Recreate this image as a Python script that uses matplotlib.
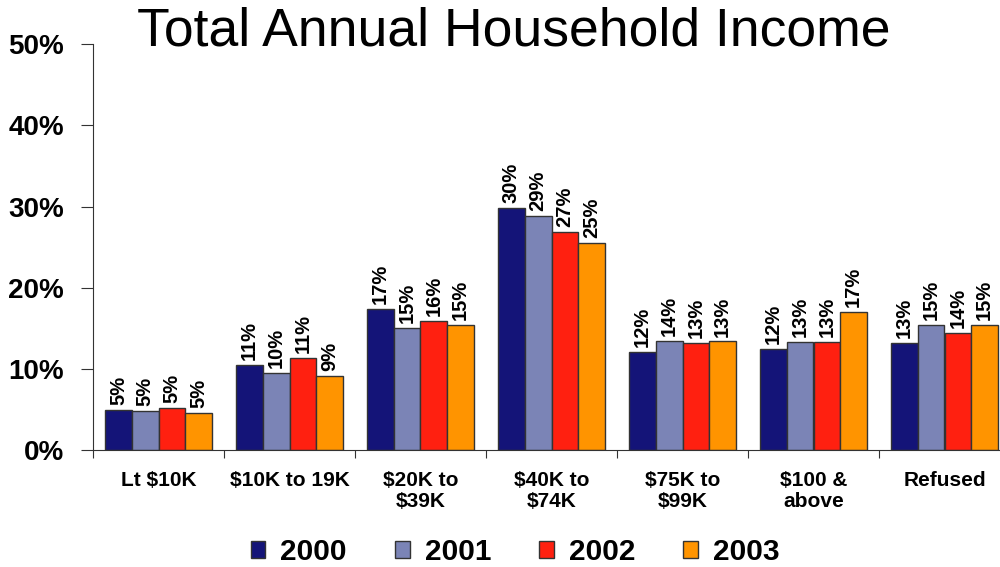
import numpy as np
import matplotlib
matplotlib.use('Agg')
import matplotlib.pyplot as plt
from matplotlib.ticker import FuncFormatter

# dados
categorias = ['Lt $10K', '$10K to 19K', '$20K to\n$39K', '$40K to\n$74K',
              '$75K to\n$99K', '$100 &\nabove', 'Refused']
anos = ['2000', '2001', '2002', '2003']
v2000 = [5.0, 10.5, 17.4, 29.8, 12.1, 12.5, 13.2]
v2001 = [4.8, 9.5, 15.1, 28.8, 13.5, 13.3, 15.4]
v2002 = [5.2, 11.4, 15.9, 26.9, 13.2, 13.3, 14.4]
v2003 = [4.6, 9.1, 15.4, 25.5, 13.4, 17.0, 15.4]
rotulos2000 = ['5%', '11%', '17%', '30%', '12%', '12%', '13%']
rotulos2001 = ['5%', '10%', '15%', '29%', '14%', '13%', '15%']
rotulos2002 = ['5%', '11%', '16%', '27%', '13%', '13%', '14%']
rotulos2003 = ['5%', '9%', '15%', '25%', '13%', '17%', '15%']

series = [v2000, v2001, v2002, v2003]
rotulos = [rotulos2000, rotulos2001, rotulos2002, rotulos2003]
cores = ['#141478', '#7b84b6', '#ff2010', '#ff9400']

plt.rcParams['font.family'] = ['Liberation Sans', 'DejaVu Sans']

fig = plt.figure(figsize=(10, 5.67), dpi=100)
ax = fig.add_axes([0.093, 0.206, 0.917, 0.716])

x = np.arange(len(categorias))
largura = 0.204
for i, (vals, cor) in enumerate(zip(series, cores)):
    pos = x + (i - 1.5) * largura
    ax.bar(pos, vals, largura, color=cor, edgecolor='#333333', linewidth=1.0,
           label=anos[i], zorder=2)
    for xp, v, r in zip(pos, vals, rotulos[i]):
        ax.text(xp, v + 0.6, r, rotation=90, ha='center', va='bottom',
                fontsize=14.5, fontweight='bold')

ax.set_xlim(-0.5, len(categorias) - 0.5)
ax.set_ylim(0, 50)
ax.set_yticks(np.arange(0, 51, 10))
ax.yaxis.set_major_formatter(FuncFormatter(lambda v, p: '%d%%' % v))
ax.set_xticks(np.arange(-0.5, len(categorias) - 0.4, 1))
ax.set_xticklabels([])
ax.set_xticks(x, minor=True)
ax.set_xticklabels(categorias, minor=True, fontsize=15, fontweight='bold',
                   linespacing=1.15)
ax.tick_params(axis='x', which='minor', length=0, pad=15)
ax.tick_params(axis='x', which='major', length=6, direction='out', color='#333333')
ax.tick_params(axis='y', length=9, direction='out', color='#333333', pad=12)
for lab in ax.get_yticklabels():
    lab.set_fontsize(20)
    lab.set_fontweight('bold')

for s in ['top', 'right']:
    ax.spines[s].set_visible(False)
ax.spines['left'].set_color('#333333')
ax.spines['bottom'].set_color('#333333')

fig.suptitle('Total Annual Household Income', fontsize=38.5, y=0.988, x=0.514)

leg = fig.legend(loc='center', bbox_to_anchor=(0.515, 0.027), ncol=4,
                 frameon=False, prop={'size': 21.5, 'weight': 'bold'},
                 handlelength=0.5, handleheight=0.5, handletextpad=0.5,
                 columnspacing=1.6)

fig.savefig('out.png', dpi=100)
